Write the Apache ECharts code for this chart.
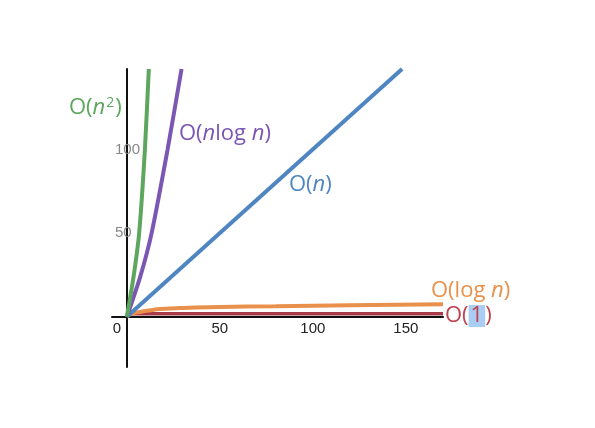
<!DOCTYPE html>
<html>
<head>
<meta charset="utf-8">
<script src="https://cdn.jsdelivr.net/npm/echarts@6/dist/echarts.min.js"></script>
<style>
html, body {margin: 0; padding: 0; background: #fff;}
#chartmain {width: 595px; height: 428px;}
</style>
</head>
<body>
<div id="chartmain"></div>
<script>
// tick labels shown on the axes
var xTicks = [0, 50, 100, 150];
var yTicks = [50, 100];

// curves, [n, steps]
var squareData = [[0, 0], [3.6, 24], [6.6, 50], [9.7, 100], [11.8, 148]];
var nlognData = [[0, 0], [7.2, 24], [13.3, 50], [21.9, 100], [29.4, 148]];
var linearData = [[0, 0], [148, 148]];
var logData = [[0, 0], [1, 1], [3, 2], [7, 2.9], [12, 3.8], [18, 4.6], [30, 5.3], [50, 5.8], [80, 6.3], [120, 6.9], [170, 7.5]];
var constData = [[0, 1.8], [170, 1.8]];

var myChart = echarts.init(document.getElementById('chartmain'));

var lineFont = '"Open Sans", "Noto Sans", sans-serif';

var option = {
    backgroundColor: '#ffffff',
    animation: false,
    grid: {left: 112, right: 152, top: 69, bottom: 61},
    xAxis: {
        type: 'value',
        min: -8,
        max: 170,
        interval: 2,
        splitLine: {show: false},
        axisTick: {show: false},
        axisLine: {show: true, onZero: true, lineStyle: {color: '#111', width: 2}},
        axisLabel: {
            margin: -46,    // labels sit under the zero line, not the grid bottom
            color: '#222',
            fontSize: 15,
            fontFamily: 'Liberation Sans, Arial, sans-serif',
            formatter: function (v) {
                if (xTicks.indexOf(v) < 0) return '';
                return v === 0 ? '{z|0}' : String(v);
            },
            rich: {
                z: {color: '#222', fontSize: 15, fontFamily: 'Liberation Sans, Arial, sans-serif', padding: [0, 20, 0, 0]}
            }
        }
    },
    yAxis: {
        type: 'value',
        min: -30,
        max: 148,
        interval: 2,
        splitLine: {show: false},
        axisTick: {show: false},
        axisLine: {show: true, onZero: true, lineStyle: {color: '#111', width: 2}},
        axisLabel: {
            align: 'left',
            margin: -3,
            color: '#888',
            fontSize: 15,
            fontFamily: 'Liberation Sans, Arial, sans-serif',
            formatter: function (v) {
                return yTicks.indexOf(v) >= 0 ? String(v) : '';
            }
        }
    },
    series: [
        {name: 'O(1)', type: 'line', data: constData, showSymbol: false,
            lineStyle: {color: '#a93a47', width: 3.5}, itemStyle: {color: '#a93a47'}},
        {name: 'O(log n)', type: 'line', data: logData, smooth: true, showSymbol: false,
            lineStyle: {color: '#e9914c', width: 4}, itemStyle: {color: '#e9914c'}},
        {name: 'O(n)', type: 'line', data: linearData, showSymbol: false,
            lineStyle: {color: '#4f86c2', width: 4}, itemStyle: {color: '#4f86c2'}},
        {name: 'O(nlog n)', type: 'line', data: nlognData, smooth: 0.2, showSymbol: false,
            lineStyle: {color: '#7b57b3', width: 4}, itemStyle: {color: '#7b57b3'}},
        {name: 'O(n2)', type: 'line', data: squareData, smooth: 0.2, showSymbol: false,
            lineStyle: {color: '#5da65e', width: 4}, itemStyle: {color: '#5da65e'}}
    ],
    graphic: [
        {
            type: 'text', x: 69, y: 108,
            style: {
                text: '{a|O(}{i|n}{s|2}{a|)}',
                verticalAlign: 'middle',
                rich: {
                    a: {fill: '#5da65e', fontSize: 22, fontFamily: lineFont},
                    i: {fill: '#5da65e', fontSize: 22, fontFamily: lineFont, fontStyle: 'italic'},
                    s: {fill: '#5da65e', fontSize: 14, fontFamily: lineFont, verticalAlign: 'top', padding: [0, 1, 10, 1]}
                }
            }
        },
        {
            type: 'text', x: 179, y: 134,
            style: {
                text: '{a|O(}{i|n}{a|log }{i|n}{a|)}',
                verticalAlign: 'middle',
                rich: {
                    a: {fill: '#7b57b3', fontSize: 22, fontFamily: lineFont},
                    i: {fill: '#7b57b3', fontSize: 22, fontFamily: lineFont, fontStyle: 'italic'}
                }
            }
        },
        {
            type: 'text', x: 289, y: 185,
            style: {
                text: '{a|O(}{i|n}{a|)}',
                verticalAlign: 'middle',
                rich: {
                    a: {fill: '#4f86c2', fontSize: 22, fontFamily: lineFont},
                    i: {fill: '#4f86c2', fontSize: 22, fontFamily: lineFont, fontStyle: 'italic'}
                }
            }
        },
        {
            type: 'text', x: 431, y: 291,
            style: {
                text: '{a|O(log }{i|n}{a|)}',
                verticalAlign: 'middle',
                rich: {
                    a: {fill: '#e9914c', fontSize: 22, fontFamily: lineFont},
                    i: {fill: '#e9914c', fontSize: 22, fontFamily: lineFont, fontStyle: 'italic'}
                }
            }
        },
        {
            type: 'text', x: 445, y: 316,
            style: {
                text: '{a|O(}{h|1}{a|)}',
                verticalAlign: 'middle',
                rich: {
                    a: {fill: '#c0414f', fontSize: 22, fontFamily: lineFont},
                    h: {fill: '#c0414f', fontSize: 22, fontFamily: lineFont, backgroundColor: '#a9cdf3', padding: [0, 2, 0, 2]}
                }
            }
        }
    ]
};

myChart.setOption(option);
</script>
</body>
</html>
